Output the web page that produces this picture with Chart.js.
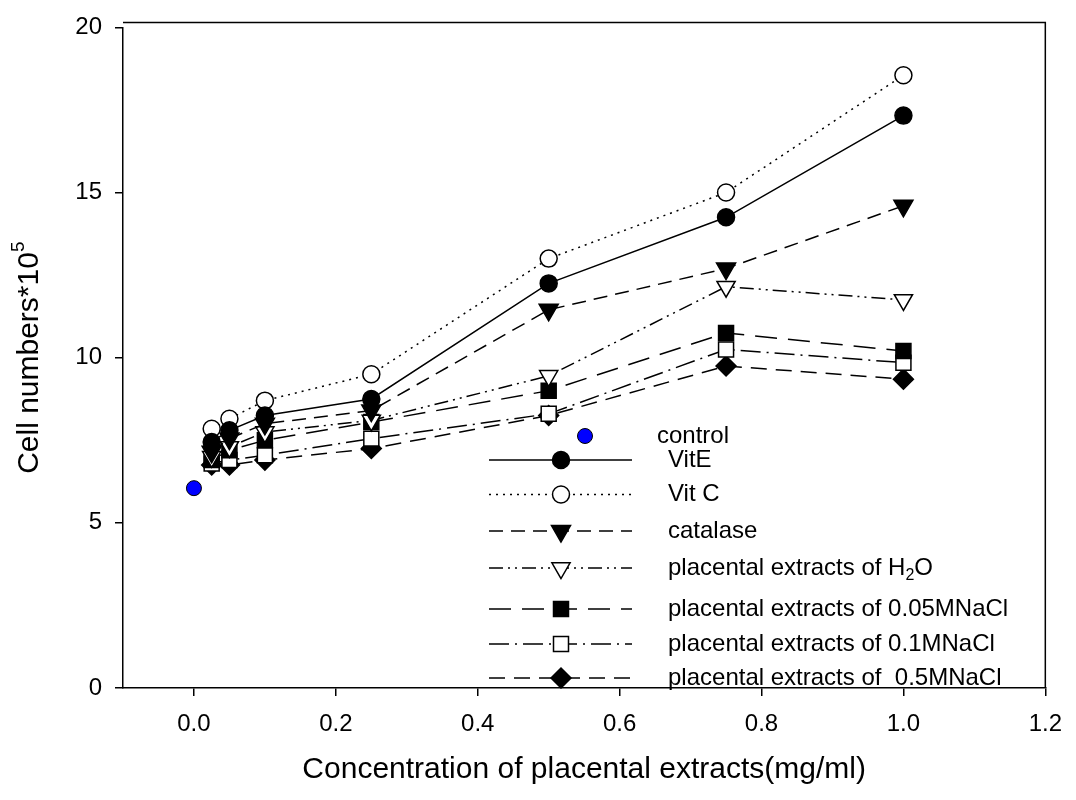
<!DOCTYPE html>
<html>
<head>
<meta charset="utf-8">
<title>Cell numbers vs placental extracts</title>
<script src="https://cdn.jsdelivr.net/npm/chart.js@4.4.1/dist/chart.umd.min.js"></script>
<style>
  html, body { margin: 0; padding: 0; background: #fff; }
  #wrap { width: 1076px; height: 800px; }
</style>
</head>
<body>
<div id="wrap"><canvas id="cells" width="1076" height="800"></canvas></div>
<script>
// concentrations (mg/ml)
const concentrations = [0.025, 0.05, 0.1, 0.25, 0.5, 0.75, 1.0];

// cell numbers * 10^5
const controlX = [0];
const controlY = [6.05];
const vitE = [7.45, 7.8, 8.25, 8.75, 12.25, 14.25, 17.33];
const vitC = [7.85, 8.15, 8.7, 9.5, 13.0, 15.0, 18.55];
const catalase = [7.15, 7.55, 8.0, 8.4, 11.45, 12.7, 14.6];
const extractH2O = [7.0, 7.3, 7.75, 8.1, 9.45, 12.15, 11.75];
const extractNaCl005 = [6.9, 7.2, 7.5, 8.05, 9.0, 10.75, 10.2];
const extractNaCl01 = [6.8, 6.9, 7.05, 7.55, 8.3, 10.25, 9.85];
const extractNaCl05 = [6.75, 6.75, 6.9, 7.25, 8.25, 9.75, 9.35];

const xTicks = [0.0, 0.2, 0.4, 0.6, 0.8, 1.0, 1.2];
const yTicks = [0, 5, 10, 15, 20];

const xTitle = 'Concentration of placental extracts(mg/ml)';
const yTitle = 'Cell numbers*10';
const yTitleSup = '5';

const FONT = '"Liberation Sans", Arial, sans-serif';

const pairs = (xs, ys) => xs.map((x, i) => ({ x: x, y: ys[i] }));

function series(label, ys, style) {
  return Object.assign({
    label: label,
    data: pairs(concentrations, ys),
    showLine: true,
    borderColor: '#000',
    borderWidth: 1.5,
    pointBorderColor: '#000',
    pointBorderWidth: 1.5,
    pointHoverRadius: 9
  }, style);
}

const datasets = [
  {
    label: 'control',
    data: pairs(controlX, controlY),
    showLine: false,
    pointStyle: 'circle',
    pointRadius: 7.5,
    pointBackgroundColor: '#0000ff',
    pointBorderColor: '#000',
    pointBorderWidth: 1
  },
  series('VitE', vitE, { pointStyle: 'circle', pointRadius: 8.5, pointBackgroundColor: '#000', borderDash: [] }),
  series('Vit C', vitC, { pointStyle: 'circle', pointRadius: 8.5, pointBackgroundColor: '#fff', borderDash: [2, 5] }),
  series('catalase', catalase, { pointStyle: 'triangle', pointRotation: 180, pointRadius: 11, pointBackgroundColor: '#000', borderDash: [14, 8] }),
  series('placental extracts of H2O', extractH2O, { pointStyle: 'triangle', pointRotation: 180, pointRadius: 10.5, pointBackgroundColor: '#fff', borderDash: [14, 5, 2, 5, 2, 5] }),
  series('placental extracts of 0.05MNaCl', extractNaCl005, { pointStyle: 'rect', pointRadius: 10.6, pointBackgroundColor: '#000', borderDash: [22, 11] }),
  series('placental extracts of 0.1MNaCl', extractNaCl01, { pointStyle: 'rect', pointRadius: 10.6, pointBackgroundColor: '#fff', borderDash: [20, 6, 2, 6] }),
  series('placental extracts of  0.5MNaCl', extractNaCl05, { pointStyle: 'rectRot', pointRadius: 10, pointBackgroundColor: '#000', borderDash: [16, 9] })
];

// legend rows drawn inside the plot, like the original figure
const legendRows = [436, 460, 494.5, 531, 568, 609, 644, 678];
const legendLine = { x0: 489, x1: 632, marker: 561, text: 668, controlText: 657 };

function drawMarker(ctx, ds, x, y) {
  ctx.fillStyle = ds.pointBackgroundColor;
  ctx.strokeStyle = ds.pointBorderColor;
  ctx.lineWidth = ds.pointBorderWidth;
  ctx.setLineDash([]);
  Chart.helpers.drawPoint(ctx, {
    pointStyle: ds.pointStyle,
    rotation: ds.pointRotation || 0,
    radius: ds.pointRadius,
    borderWidth: ds.pointBorderWidth
  }, x, y);
}

function drawLabel(ctx, text, x, y) {
  // H2O gets a subscript 2
  const m = text.match(/^(.*H)2(O)$/);
  ctx.font = '24px ' + FONT;
  if (!m) {
    ctx.fillText(text, x, y);
    return;
  }
  ctx.fillText(m[1], x, y);
  let w = ctx.measureText(m[1]).width;
  ctx.font = '16px ' + FONT;
  ctx.fillText('2', x + w, y + 8);
  w += ctx.measureText('2').width;
  ctx.font = '24px ' + FONT;
  ctx.fillText(m[2], x + w, y);
}

const legendPlugin = {
  id: 'insideLegend',
  afterDraw(chart) {
    const ctx = chart.ctx;
    ctx.save();
    ctx.textBaseline = 'middle';
    ctx.textAlign = 'left';
    chart.data.datasets.forEach((ds, i) => {
      const y = legendRows[i];
      if (ds.showLine) {
        ctx.strokeStyle = '#000';
        ctx.lineWidth = ds.borderWidth;
        ctx.setLineDash(ds.borderDash || []);
        ctx.beginPath();
        ctx.moveTo(legendLine.x0, y);
        ctx.lineTo(legendLine.x1, y);
        ctx.stroke();
        drawMarker(ctx, ds, legendLine.marker, y);
        ctx.fillStyle = '#000';
        drawLabel(ctx, ds.label, legendLine.text, y);
      } else {
        drawMarker(ctx, ds, 585, y);
        ctx.fillStyle = '#000';
        drawLabel(ctx, ds.label, legendLine.controlText, y);
      }
    });
    ctx.restore();
  }
};

const framePlugin = {
  id: 'frame',
  afterDraw(chart) {
    const { ctx, chartArea: a } = chart;
    ctx.save();
    ctx.strokeStyle = '#000';
    ctx.lineWidth = 1.5;
    ctx.beginPath();
    ctx.moveTo(a.left, a.top - 5);
    ctx.lineTo(a.right, a.top - 5);
    ctx.lineTo(a.right, a.bottom);
    ctx.stroke();
    ctx.restore();
  }
};

const titlesPlugin = {
  id: 'axisTitles',
  afterDraw(chart) {
    const { ctx, chartArea: a } = chart;
    ctx.save();
    ctx.fillStyle = '#000';
    ctx.font = '30px ' + FONT;
    ctx.textAlign = 'center';
    ctx.textBaseline = 'middle';
    ctx.fillText(xTitle, (a.left + a.right) / 2, 770);

    ctx.translate(30, (a.top + a.bottom) / 2);
    ctx.rotate(-Math.PI / 2);
    ctx.textAlign = 'left';
    const w1 = ctx.measureText(yTitle).width;
    ctx.font = '19px ' + FONT;
    const w2 = ctx.measureText(yTitleSup).width;
    const start = -(w1 + w2) / 2;
    ctx.font = '30px ' + FONT;
    ctx.fillText(yTitle, start, 0);
    ctx.font = '19px ' + FONT;
    ctx.fillText(yTitleSup, start + w1, -11);
    ctx.restore();
  }
};

const axisCommon = {
  grid: { drawOnChartArea: false, drawTicks: true, tickLength: 8, color: '#000', lineWidth: 1.5 },
  border: { color: '#000', width: 1.5 },
  ticks: { color: '#000', font: { size: 24, family: FONT } }
};

new Chart(document.getElementById('cells'), {
  type: 'scatter',
  data: { datasets: datasets },
  options: {
    responsive: false,
    animation: false,
    devicePixelRatio: 1,
    layout: { padding: { top: 20, right: 23, left: 0, bottom: 0 } },
    plugins: {
      legend: { display: false },
      tooltip: { enabled: false }
    },
    scales: {
      x: {
        type: 'linear',
        min: -0.1,
        max: 1.2,
        grid: axisCommon.grid,
        border: axisCommon.border,
        ticks: Object.assign({}, axisCommon.ticks, { padding: 14, callback: v => v.toFixed(1) }),
        afterBuildTicks: scale => { scale.ticks = xTicks.map(v => ({ value: v })); },
        afterFit: scale => { scale.height = 112; }
      },
      y: {
        type: 'linear',
        min: 0,
        max: 20,
        grid: axisCommon.grid,
        border: axisCommon.border,
        ticks: Object.assign({}, axisCommon.ticks, { padding: 13, callback: v => String(v) }),
        afterBuildTicks: scale => { scale.ticks = yTicks.map(v => ({ value: v })); },
        afterFit: scale => { scale.width = 123; }
      }
    }
  },
  plugins: [legendPlugin, framePlugin, titlesPlugin]
});
</script>
</body>
</html>
